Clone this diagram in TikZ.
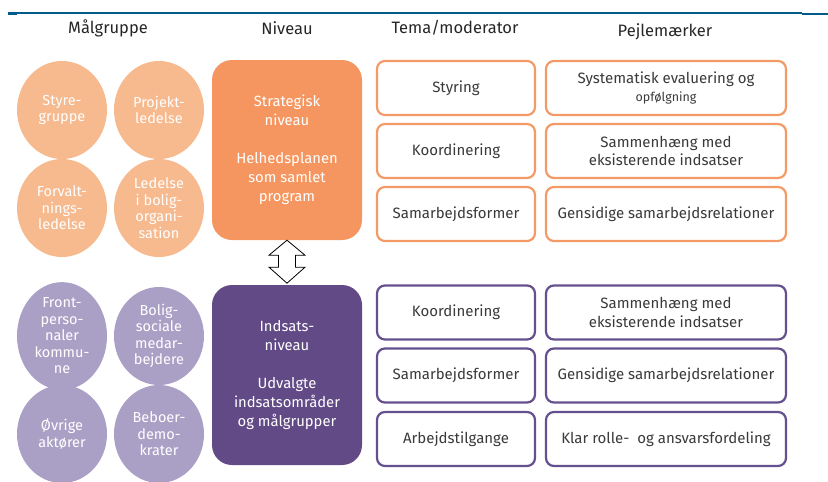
\documentclass[tikz,border=0pt]{standalone}
\usepackage{fontspec}
\setmainfont{Fira Sans}
\usetikzlibrary{calc,shapes.geometric}
\definecolor{rulebl}{HTML}{005A8C}
\definecolor{orline}{HTML}{F39A66}
\definecolor{orbox}{HTML}{F59660}
\definecolor{orcirc}{HTML}{F7B98E}
\definecolor{puline}{HTML}{65508F}
\definecolor{pubox}{HTML}{624A87}
\definecolor{pucirc}{HTML}{AAA0C6}
\definecolor{txtgr}{HTML}{3A3A3A}

\begin{document}
\begin{tikzpicture}[x=1pt, y=-1pt,
  head/.style={font=\fontsize{16.5}{18}\selectfont, text=black!85},
  grp/.style={ellipse, minimum width=90, minimum height=98, inner sep=0pt,
    align=center, text=white, font=\fontsize{14.5}{16.5}\selectfont},
  lvl/.style={rounded corners=20, minimum width=150, minimum height=180,
    align=center, text=white, font=\fontsize{14.8}{19}\selectfont},
  tema/.style={draw, rounded corners=8, line width=2.2pt, fill=white,
    minimum width=158, minimum height=54, align=center, text=txtgr,
    font=\fontsize{15}{18.5}\selectfont},
  pejl/.style={tema, minimum width=240}]
  \useasboundingbox (0,0) rectangle (828,482);

  % Top rule
  \fill[rulebl] (8,12) rectangle (802,14);
  \fill[rulebl] (8,12) rectangle (17,15);
  \fill[rulebl] (802,13) rectangle (828,15);

  % Column headings
  \node[head] (h1) at (108,28) {Målgruppe};
  \node[head] (h2) at (287,28) {Niveau};
  \node[head] (h3) at (455,28) {Tema/moderator};
  \node[head] (h4) at (665,32) {Pejlemærker};

  % Target groups, strategic level
  \foreach \n/\x/\y/\t in {g1/62/110/{Styre-\\gruppe},
      g2/159/110/{Projekt-\\ledelse},
      g3/62/208/{Forvalt-\\nings-\\ledelse},
      g4/159/208/{Ledelse\\i bolig-\\organi-\\sation}}
    \node[grp, fill=orcirc] (\n) at (\x,\y) {\t};

  % Target groups, effort level
  \foreach \n/\x/\y/\t in {g5/62/336/{Front-\\perso-\\naler\\kommu-\\ne},
      g6/159/336/{Bolig-\\sociale\\medar-\\bejdere},
      g7/62/434/{Øvrige\\aktører},
      g8/159/434/{Beboer-\\demo-\\krater}}
    \node[grp, fill=pucirc] (\n) at (\x,\y) {\t};

  % Levels
  \node[lvl, fill=orbox] (lvlS) at (287,150)
    {Strategisk\\niveau\\[19pt]Helhedsplanen\\som samlet\\program};
  \node[lvl, fill=pubox] (lvlI) at (287,375)
    {Indsats-\\niveau\\[19pt]Udvalgte\\indsatsområder\\og målgrupper};

  % Double arrow between the levels
  \draw[fill=white, line width=0.8pt, line join=miter] (lvlS.south)
    -- ++(18,15) -- ++(-9.5,0) -- ++(0,12) -- ++(9.5,0) -- ++(-18,16)
    -- ++(-18,-16) -- ++(9.5,0) -- ++(0,-12) -- ++(-9.5,0) -- cycle;

  % Themes and bearings, strategic level
  \foreach \t/\p/\y [count=\i] in {Styring/{Systematisk evaluering og\\{\fontsize{12.5}{14}\selectfont opfølgning}}/88,
      Koordinering/{Sammenhæng med\\eksisterende indsatser}/151,
      Samarbejdsformer/{Gensidige samarbejdsrelationer}/214}
  {
    \node[tema, draw=orline] (ts\i) at (456,\y) {\t};
    \node[pejl, draw=orline] (ps\i) at (666,\y) {\p};
  }

  % Themes and bearings, effort level
  \foreach \t/\p/\y [count=\i] in {Koordinering/{Sammenhæng med\\eksisterende indsatser}/312.5,
      Samarbejdsformer/{Gensidige samarbejdsrelationer}/375.5,
      Arbejdstilgange/{Klar rolle-~ og ansvarsfordeling}/439}
  {
    \node[tema, draw=puline] (ti\i) at (456,\y) {\t};
    \node[pejl, draw=puline] (pi\i) at (666,\y) {\p};
  }
\end{tikzpicture}
\end{document}
